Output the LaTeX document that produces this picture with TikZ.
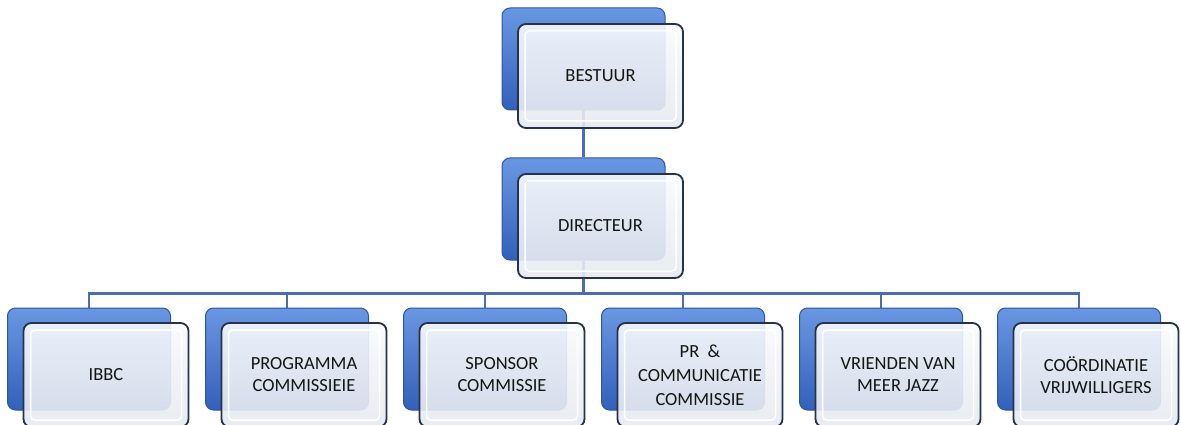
\documentclass[tikz,border=0pt]{standalone}
\usepackage{fontspec}
\setmainfont{Carlito}
\usetikzlibrary{backgrounds}
\definecolor{conncol}{HTML}{4A6DB3}
\definecolor{backtop}{HTML}{6A97E2}
\definecolor{backbot}{HTML}{3360BA}
\definecolor{backline}{HTML}{2D55A6}
\definecolor{frontline}{HTML}{26324A}
\definecolor{fronttop}{HTML}{F8FAFC}
\definecolor{frontbot}{HTML}{E6E9EF}
\definecolor{txt}{HTML}{141414}
\begin{document}
\begin{tikzpicture}[x=1pt,y=-1pt,
  conn/.style={draw=conncol, line width=2.6pt},
  backbox/.style={rectangle, rounded corners=8pt, minimum width=163pt, minimum height=102pt,
    draw=backline, line width=1pt, top color=backtop, bottom color=backbot},
  frontbox/.style={rectangle, rounded corners=8pt, minimum width=165pt, minimum height=104pt,
    draw=frontline, line width=1.8pt, top color=fronttop, bottom color=frontbot,
    fill opacity=0.9, text opacity=1, text=txt, font=\fontsize{18.5}{22}\selectfont, align=center,
    path picture={\draw[white, line width=1.5pt, rounded corners=4pt]
      ([shift={(7pt,-7pt)}]path picture bounding box.north west) rectangle
      ([shift={(-7pt,7pt)}]path picture bounding box.south east);}}
]
\useasboundingbox (0,0) rectangle (1181,425);
\node[backbox] (b0) at (583.5,59) {};
\node[frontbox] (f0) at (600.5,76) {BESTUUR};
\node[backbox] (b1) at (583.5,209) {};
\node[frontbox] (f1) at (600.5,226) {DIRECTEUR};
\foreach \i/\t in {0/{IBBC},1/{PROGRAMMA\\COMMISSIEIE},2/{SPONSOR\\COMMISSIE},3/{PR\ \ \&\\[2pt]COMMUNICATIE\\[2pt]COMMISSIE},4/{VRIENDEN VAN\\MEER JAZZ},5/{COÖRDINATIE\\VRIJWILLIGERS}}{
  \node[backbox] (c\i) at (89+198*\i,359) {};
  \node[frontbox] (d\i) at (106+198*\i,375) {\t};
}
\begin{scope}[on background layer]
  \draw[conn] (b0.south) -- (b1.north);
  \foreach \i in {0,...,5}{
    \draw[conn] (b1.south) -- ++(0,33) -| (c\i.north);
  }
\end{scope}
\end{tikzpicture}
\end{document}
